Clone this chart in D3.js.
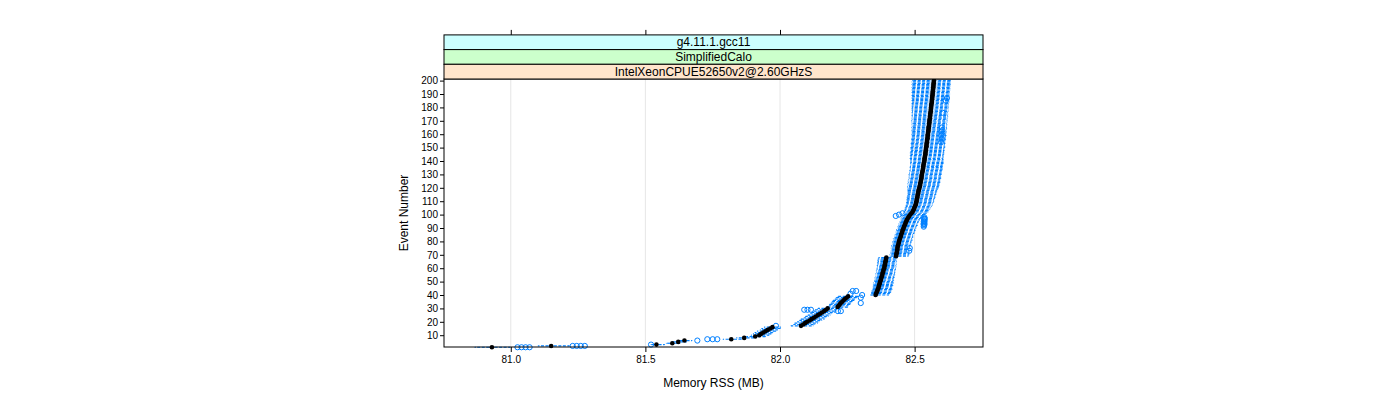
<!DOCTYPE html>
<html>
<head>
<meta charset="utf-8">
<script src="https://cdnjs.cloudflare.com/ajax/libs/d3/7.8.5/d3.min.js"></script>
<style>
body { margin: 0; background: #fff; }
text { font-family: 'Liberation Sans', Arial, sans-serif; fill: #000; }
</style>
</head>
<body>
<div id="container"></div>
<script>
'use strict';

const w = 1400;
const h = 400;

// strips, outermost first
const stripLabels = ['g4.11.1.gcc11', 'SimplifiedCalo', 'IntelXeonCPUE52650v2@2.60GHzS'];
const stripColors = ['#ccffff', '#ccffcc', '#ffe5cc'];

const xTicks = [81.0, 81.5, 82.0, 82.5];
const yTicks = [10, 20, 30, 40, 50, 60, 70, 80, 90, 100, 110, 120, 130, 140, 150, 160, 170, 180, 190, 200];

// median memory RSS (MB) for events 1..200
const medians = [
    80.930, 81.150, 81.541, 81.600, 81.622, 81.645, 81.819, 81.867, 81.908, 81.923,
    81.930, 81.938, 81.946, 81.955, 81.964, 81.972, 82.078, 82.086, 82.093, 82.101,
    82.110, 82.117, 82.126, 82.133, 82.141, 82.149, 82.156, 82.164, 82.171, 82.177,
    82.214, 82.218, 82.222, 82.226, 82.231, 82.236, 82.241, 82.247, 82.253, 82.355,
    82.357, 82.359, 82.361, 82.363, 82.365, 82.366, 82.368, 82.369, 82.371, 82.372,
    82.374, 82.375, 82.377, 82.378, 82.380, 82.381, 82.382, 82.384, 82.385, 82.387,
    82.388, 82.389, 82.390, 82.391, 82.392, 82.393, 82.394, 82.395, 82.431, 82.432,
    82.433, 82.434, 82.435, 82.436, 82.436, 82.437, 82.438, 82.440, 82.441, 82.442,
    82.444, 82.445, 82.447, 82.449, 82.450, 82.452, 82.454, 82.455, 82.457, 82.459,
    82.461, 82.463, 82.465, 82.467, 82.469, 82.471, 82.474, 82.477, 82.480, 82.484,
    82.488, 82.492, 82.495, 82.497, 82.499, 82.501, 82.503, 82.505, 82.506, 82.507,
    82.508, 82.509, 82.510, 82.511, 82.512, 82.513, 82.514, 82.515, 82.516, 82.518,
    82.519, 82.520, 82.521, 82.522, 82.523, 82.524, 82.525, 82.526, 82.526, 82.527,
    82.528, 82.529, 82.530, 82.531, 82.532, 82.532, 82.533, 82.534, 82.535, 82.536,
    82.537, 82.537, 82.538, 82.539, 82.540, 82.540, 82.541, 82.542, 82.542, 82.543,
    82.544, 82.544, 82.545, 82.546, 82.546, 82.547, 82.548, 82.548, 82.549, 82.549,
    82.550, 82.551, 82.551, 82.552, 82.552, 82.553, 82.554, 82.554, 82.555, 82.555,
    82.556, 82.557, 82.557, 82.558, 82.558, 82.559, 82.560, 82.560, 82.561, 82.561,
    82.562, 82.562, 82.563, 82.564, 82.564, 82.565, 82.565, 82.566, 82.566, 82.567,
    82.567, 82.568, 82.568, 82.569, 82.569, 82.570, 82.570, 82.571, 82.571, 82.572
];

// half box width (median to quartiles), in 0.001 MB
const boxGap = [
    10, 10, 8, 8, 8, 8, 10, 9, 10, 11, 10, 9, 10, 11, 10, 10, 12, 11, 12, 13,
    12, 11, 12, 13, 12, 11, 12, 12, 13, 12, 10, 11, 10, 9, 10, 11, 10, 10, 9, 8,
    8, 9, 8, 7, 8, 9, 8, 8, 7, 8, 9, 8, 8, 7, 8, 9, 8, 8, 7, 8,
    9, 8, 8, 7, 8, 9, 8, 8, 9, 8, 8, 9, 8, 8, 9, 8, 8, 9, 8, 9,
    8, 9, 9, 8, 9, 8, 9, 9, 8, 9, 9, 8, 9, 9, 8, 9, 9, 10, 9, 10,
    10, 11, 10, 10, 11, 10, 11, 10, 11, 11, 10, 11, 11, 12, 11, 12, 11, 12, 12, 12,
    12, 13, 12, 12, 13, 12, 13, 12, 12, 13, 12, 13, 12, 13, 13, 12, 13, 13, 12, 13,
    14, 13, 14, 14, 13, 14, 14, 13, 14, 14, 13, 14, 14, 13, 14, 14, 13, 14, 14, 13,
    14, 14, 15, 14, 14, 15, 14, 15, 15, 14, 15, 16, 15, 15, 16, 15, 16, 15, 16, 16,
    16, 15, 16, 16, 15, 16, 16, 15, 16, 16, 15, 16, 16, 16, 15, 16, 16, 15, 16, 16
];

// median to lower whisker end, in 0.001 MB
const loGap = [
    63, 48, 20, 22, 24, 22, 30, 28, 32, 30, 29, 31, 30, 28, 32, 30, 37, 35, 38, 36,
    37, 39, 36, 38, 37, 35, 38, 37, 39, 36, 37, 35, 38, 36, 37, 39, 36, 38, 37, 18,
    17, 19, 20, 18, 19, 20, 21, 22, 24, 21, 23, 22, 24, 22, 24, 25, 23, 26, 25, 27,
    26, 28, 27, 29, 28, 30, 29, 28, 22, 24, 21, 23, 22, 20, 23, 22, 24, 21, 22, 23,
    22, 24, 21, 23, 22, 20, 23, 22, 24, 21, 23, 22, 24, 21, 23, 22, 24, 25, 26, 28,
    30, 32, 31, 33, 34, 33, 35, 34, 36, 35, 37, 36, 38, 37, 36, 38, 39, 40, 42, 44,
    45, 44, 46, 45, 47, 46, 45, 47, 46, 48, 47, 46, 48, 47, 49, 48, 47, 49, 50, 51,
    52, 54, 53, 55, 54, 56, 55, 54, 56, 57, 55, 56, 58, 57, 56, 58, 59, 57, 58, 60,
    59, 60, 62, 61, 63, 62, 64, 63, 65, 66, 65, 67, 66, 68, 67, 69, 68, 70, 71, 70,
    72, 71, 73, 72, 74, 73, 75, 74, 76, 75, 77, 76, 78, 77, 79, 78, 80, 79, 81, 80
];

// median to upper whisker end, in 0.001 MB
const hiGap = [
    67, 67, 30, 28, 30, 28, 37, 35, 38, 36, 37, 35, 38, 36, 37, 30, 45, 43, 46, 44,
    45, 47, 44, 46, 45, 43, 46, 45, 47, 44, 37, 35, 38, 36, 37, 39, 36, 38, 37, 48,
    50, 52, 51, 53, 50, 49, 51, 48, 50, 47, 48, 46, 47, 45, 46, 44, 45, 43, 44, 42,
    43, 41, 42, 40, 41, 39, 40, 38, 45, 47, 44, 46, 45, 43, 46, 45, 47, 44, 46, 45,
    47, 44, 46, 45, 43, 46, 45, 47, 44, 46, 45, 47, 44, 46, 45, 47, 48, 50, 52, 55,
    56, 58, 57, 59, 60, 61, 62, 61, 63, 64, 63, 65, 66, 65, 67, 66, 68, 67, 69, 70,
    70, 71, 70, 72, 71, 70, 72, 71, 70, 72, 71, 70, 71, 72, 70, 71, 70, 72, 71, 70,
    69, 68, 69, 67, 68, 69, 67, 68, 67, 69, 68, 67, 68, 66, 67, 68, 66, 67, 68, 66,
    67, 66, 65, 67, 66, 65, 66, 64, 65, 66, 64, 65, 66, 64, 65, 63, 64, 65, 63, 64,
    64, 63, 62, 64, 63, 62, 63, 61, 62, 63, 62, 61, 63, 62, 61, 62, 63, 61, 62, 61
];

// outliers
const outlierEvents = [
    1, 1, 1, 1, 2, 2, 2, 2, 3, 6, 7, 7, 7, 17, 28, 28, 29, 29, 29, 34, 38, 40, 41, 43, 43,
    73, 75, 91, 92, 93, 93, 94, 95, 95, 96, 97, 97, 98, 99, 100, 101,
    154, 156, 157, 159, 160, 162, 163, 165, 176, 185, 187
];
const outlierValues = [
    81.025, 81.040, 81.055, 81.070, 81.230, 81.245, 81.260, 81.275, 81.521, 81.693,
    81.730, 81.750, 81.767, 81.985, 82.215, 82.226, 82.090, 82.102, 82.115, 82.300,
    82.300, 82.305, 82.262, 82.270, 82.283,
    82.480, 82.482, 82.534, 82.535, 82.533, 82.537, 82.535, 82.534, 82.537, 82.536,
    82.535, 82.538, 82.536, 82.430, 82.442, 82.455,
    82.598, 82.600, 82.601, 82.599, 82.602, 82.600, 82.603, 82.601, 82.604, 82.616, 82.620
];

const panel = { left: 444, right: 983, top: 79, bottom: 347 };
const stripH = 14.7;
const blue = '#0080ff';

const svg = d3.select('#container')
                .append('svg')
                .attr('width', w)
                .attr('height', h)
                .attr('viewBox', '0 0 ' + w + ' ' + h);

const xScale = d3.scaleLinear()
                    .domain([80.752, 82.754])
                    .range([panel.left, panel.right]);
const yScale = d3.scaleLinear()
                    .domain([1.2, 201.2])
                    .range([panel.bottom, panel.top]);

const rows = medians.map((m, i) => ({
    ev: i + 1,
    med: m,
    q1: m - boxGap[i] / 1000,
    q3: m + boxGap[i] / 1000,
    lo: m - loGap[i] / 1000,
    hi: m + hiGap[i] / 1000
}));
const outliers = outlierEvents.map((e, i) => ({ ev: e, v: outlierValues[i] }));

const bh = Math.abs(yScale(1.5) - yScale(1));   // half-unit box height

// grid
svg.append('g')
    .selectAll('line')
    .data(xTicks)
    .enter()
    .append('line')
    .attr('x1', (d) => xScale(d))
    .attr('x2', (d) => xScale(d))
    .attr('y1', panel.top)
    .attr('y2', panel.bottom)
    .attr('stroke', '#e6e6e6')
    .attr('stroke-width', 1);

const marks = svg.append('g');

// boxes (thin, they mostly sit under the median dots)
marks.selectAll('rect.box')
    .data(rows)
    .enter()
    .append('rect')
    .attr('class', 'box')
    .attr('x', (d) => xScale(d.q1))
    .attr('y', (d) => yScale(d.ev) - bh / 2)
    .attr('width', (d) => xScale(d.q3) - xScale(d.q1))
    .attr('height', bh)
    .attr('fill', 'none')
    .attr('stroke', blue)
    .attr('stroke-opacity', 0.35)
    .attr('stroke-width', 0.5);

// umbrellas
const umb = [];
rows.forEach((d) => {
    umb.push({ ev: d.ev, a: d.q1, b: d.lo });
    umb.push({ ev: d.ev, a: d.q3, b: d.hi });
});
marks.selectAll('line.umb')
    .data(umb)
    .enter()
    .append('line')
    .attr('class', 'umb')
    .attr('x1', (d) => xScale(d.a))
    .attr('x2', (d) => xScale(d.b))
    .attr('y1', (d) => yScale(d.ev))
    .attr('y2', (d) => yScale(d.ev))
    .attr('stroke', blue)
    .attr('stroke-width', 1.2)
    .attr('stroke-dasharray', '3,1.5');
marks.selectAll('line.end')
    .data(umb)
    .enter()
    .append('line')
    .attr('class', 'end')
    .attr('x1', (d) => xScale(d.b))
    .attr('x2', (d) => xScale(d.b))
    .attr('y1', (d) => yScale(d.ev) - bh / 2)
    .attr('y2', (d) => yScale(d.ev) + bh / 2)
    .attr('stroke', blue)
    .attr('stroke-width', 1);

// outliers
marks.selectAll('circle.out')
    .data(outliers)
    .enter()
    .append('circle')
    .attr('class', 'out')
    .attr('cx', (d) => xScale(d.v))
    .attr('cy', (d) => yScale(d.ev))
    .attr('r', 2.6)
    .attr('fill', 'none')
    .attr('stroke', blue)
    .attr('stroke-width', 1);

// medians
marks.selectAll('circle.med')
    .data(rows)
    .enter()
    .append('circle')
    .attr('class', 'med')
    .attr('cx', (d) => xScale(d.med))
    .attr('cy', (d) => yScale(d.ev))
    .attr('r', 2.3)
    .attr('fill', '#000');

// panel border
svg.append('rect')
    .attr('x', panel.left)
    .attr('y', panel.top)
    .attr('width', panel.right - panel.left)
    .attr('height', panel.bottom - panel.top)
    .attr('fill', 'none')
    .attr('stroke', '#000')
    .attr('stroke-width', 1);

// strips
stripLabels.forEach((lab, i) => {
    const y0 = panel.top - stripH * (stripLabels.length - i);
    svg.append('rect')
        .attr('x', panel.left)
        .attr('y', y0)
        .attr('width', panel.right - panel.left)
        .attr('height', stripH)
        .attr('fill', stripColors[i])
        .attr('stroke', '#000')
        .attr('stroke-width', 1);
    svg.append('text')
        .attr('x', (panel.left + panel.right) / 2)
        .attr('y', y0 + stripH / 2 + 4.2)
        .attr('text-anchor', 'middle')
        .attr('font-size', 12)
        .text(lab);
});

// axes
const xAxis = d3.axisBottom(xScale)
                .tickValues(xTicks)
                .tickFormat(d3.format('.1f'))
                .tickSize(5)
                .tickSizeOuter(0);
const xAxisTop = d3.axisTop(xScale)
                .tickValues(xTicks)
                .tickFormat('')
                .tickSize(5)
                .tickSizeOuter(0);
const yAxis = d3.axisLeft(yScale)
                .tickValues(yTicks)
                .tickSize(4)
                .tickSizeOuter(0);

const gx = svg.append('g')
    .attr('transform', 'translate(0, ' + panel.bottom + ')')
    .call(xAxis);
const gxt = svg.append('g')
    .attr('transform', 'translate(0, ' + (panel.top - stripH * 3) + ')')
    .call(xAxisTop);
const gy = svg.append('g')
    .attr('transform', 'translate(' + panel.left + ', 0)')
    .call(yAxis);

[gx, gxt, gy].forEach((g) => {
    g.select('.domain').remove();
    g.selectAll('.tick line').attr('stroke', '#000');
    g.selectAll('.tick text')
        .attr('font-family', "'Liberation Sans', Arial, sans-serif")
        .attr('font-size', 10)
        .attr('fill', '#000');
});
gy.selectAll('.tick text').attr('x', -6);
gx.selectAll('.tick text').attr('y', 9);

svg.append('text')
    .attr('x', (panel.left + panel.right) / 2)
    .attr('y', 387)
    .attr('text-anchor', 'middle')
    .attr('font-size', 12)
    .text('Memory RSS (MB)');

svg.append('text')
    .attr('transform', 'translate(408, ' + (panel.top + panel.bottom) / 2 + ') rotate(-90)')
    .attr('text-anchor', 'middle')
    .attr('font-size', 12)
    .text('Event Number');
</script>
</body>
</html>
